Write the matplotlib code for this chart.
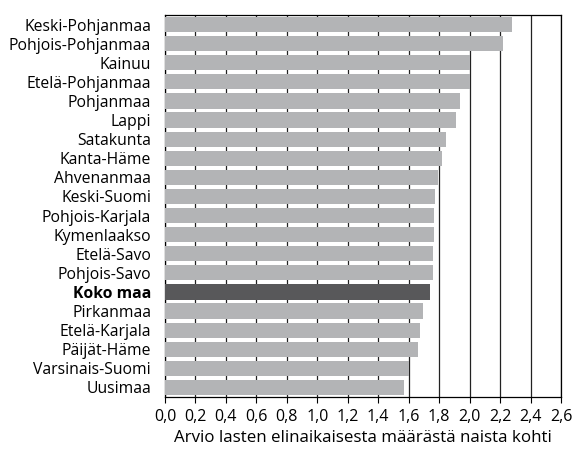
import matplotlib
matplotlib.use("Agg")
import matplotlib.pyplot as plt

regions = ["Keski-Pohjanmaa", "Pohjois-Pohjanmaa", "Kainuu", "Etelä-Pohjanmaa", "Pohjanmaa",
           "Lappi", "Satakunta", "Kanta-Häme", "Ahvenanmaa", "Keski-Suomi",
           "Pohjois-Karjala", "Kymenlaakso", "Etelä-Savo", "Pohjois-Savo", "Koko maa",
           "Pirkanmaa", "Etelä-Karjala", "Päijät-Häme", "Varsinais-Suomi", "Uusimaa"]
values = [2.28, 2.22, 2.00, 2.00, 1.94, 1.91, 1.845, 1.82, 1.795, 1.77,
          1.765, 1.765, 1.76, 1.76, 1.74, 1.695, 1.675, 1.66, 1.605, 1.57]
xticks = [0.0, 0.2, 0.4, 0.6, 0.8, 1.0, 1.2, 1.4, 1.6, 1.8, 2.0, 2.2, 2.4, 2.6]
xticklabels = ["0,0", "0,2", "0,4", "0,6", "0,8", "1,0", "1,2", "1,4", "1,6", "1,8", "2,0", "2,2", "2,4", "2,6"]
xlabel = "Arvio lasten elinaikaisesta määrästä naista kohti"
highlight = "Koko maa"

plt.rcParams['font.family'] = ['Open Sans', 'DejaVu Sans']

fig = plt.figure(figsize=(5.74, 4.57), dpi=100)
ax = fig.add_axes([165/574, 1 - 397/457, (561 - 165)/574, (397 - 15)/457])

ypos = list(range(len(regions)))
colors = ['#58585a' if r == highlight else '#b3b4b6' for r in regions]
ax.barh(ypos, values, height=0.8, color=colors, zorder=3)
ax.set_ylim(len(regions) - 0.5, -0.5)
ax.set_xlim(0, 2.6)
ax.set_xticks(xticks)
ax.set_xticklabels(xticklabels, fontsize=11.5)
ax.set_yticks(ypos)
ax.set_yticklabels(regions, fontsize=11.3)
for lbl in ax.get_yticklabels():
    if lbl.get_text() == highlight:
        lbl.set_fontweight('bold')
ax.tick_params(axis='y', length=0, pad=10)
ax.tick_params(axis='x', direction='out', length=4, width=0.8, pad=4.5)
ax.grid(axis='x', color='#222222', linewidth=0.9, zorder=1)
ax.set_axisbelow(True)
for s in ax.spines.values():
    s.set_linewidth(0.9)
    s.set_zorder(1)
ax.set_xlabel(xlabel, fontsize=12.2, labelpad=3.5)

fig.savefig("out.png", dpi=100)
